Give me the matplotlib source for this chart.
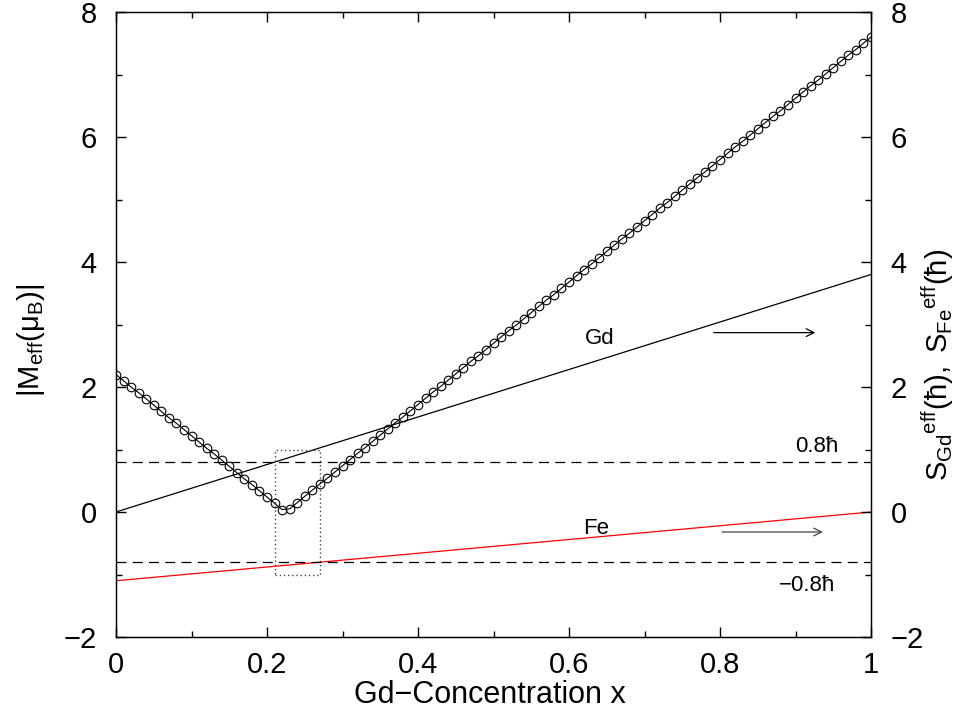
import numpy as np
import matplotlib
matplotlib.use("Agg")
import matplotlib.pyplot as plt
from matplotlib.ticker import MultipleLocator

plt.rcParams['font.family'] = ['Liberation Sans', 'DejaVu Sans']
plt.rcParams['mathtext.fontset'] = 'custom'
plt.rcParams['mathtext.rm'] = 'Liberation Sans'
plt.rcParams['mathtext.it'] = 'Liberation Sans'
plt.rcParams['mathtext.default'] = 'rm'
plt.rcParams['axes.unicode_minus'] = True

# Gd concentration grid
x_conc = np.linspace(0.0, 1.0, 101)

# |M_eff| (mu_B)
m_eff = [2.20, 2.10, 2.00, 1.91, 1.81, 1.71, 1.61, 1.51, 1.42, 1.32,
         1.22, 1.12, 1.02, 0.93, 0.83, 0.73, 0.63, 0.53, 0.44, 0.34,
         0.24, 0.14, 0.04, 0.05, 0.15, 0.25, 0.35, 0.45, 0.54, 0.64,
         0.74, 0.84, 0.94, 1.03, 1.13, 1.23, 1.33, 1.43, 1.52, 1.62,
         1.72, 1.82, 1.92, 2.01, 2.11, 2.21, 2.31, 2.41, 2.50, 2.60,
         2.70, 2.80, 2.90, 2.99, 3.09, 3.19, 3.29, 3.39, 3.48, 3.58,
         3.68, 3.78, 3.88, 3.97, 4.07, 4.17, 4.27, 4.37, 4.46, 4.56,
         4.66, 4.76, 4.86, 4.95, 5.05, 5.15, 5.25, 5.35, 5.44, 5.54,
         5.64, 5.74, 5.84, 5.93, 6.03, 6.13, 6.23, 6.33, 6.42, 6.52,
         6.62, 6.72, 6.82, 6.91, 7.01, 7.11, 7.21, 7.31, 7.40, 7.50,
         7.60]

# Effective spins (hbar), straight lines
s_x = [0.0, 1.0]
s_gd = [0.0, 3.8]
s_fe = [-1.1, 0.0]

# Reference levels
levels = [0.8, -0.8]

# Dotted box
box_x = [0.21, 0.27]
box_y = [-1.0, 1.0]

fig = plt.figure(figsize=(9.63, 7.25), dpi=100)
ax = fig.add_axes([116/963, 1-637/725, (871-116)/963, (637-12)/725])

ax.plot(x_conc, m_eff, color='black', lw=0.8, marker='o', ms=6.2,
        mfc='none', mec='black', mew=0.8, zorder=4)
ax.plot(s_x, s_gd, color='black', lw=0.9)
ax.plot(s_x, s_fe, color='red', lw=0.9)
for lv in levels:
    ax.axhline(lv, color='black', lw=0.9, dashes=(8, 5))

ax.plot([box_x[0], box_x[1], box_x[1], box_x[0], box_x[0]],
        [box_y[0], box_y[0], box_y[1], box_y[1], box_y[0]],
        color='#444444', lw=1.0, ls=(0, (1, 2)))

ax.text(0.64, 2.77, 'Gd', fontsize=16, ha='center', va='center')
ax.text(0.636, -0.26, 'Fe', fontsize=16, ha='center', va='center')
ax.annotate('', xy=(0.93, 2.87), xytext=(0.788, 2.87),
            arrowprops=dict(arrowstyle='->', color='black', lw=0.9,
                            mutation_scale=14))
ax.annotate('', xy=(0.94, -0.32), xytext=(0.799, -0.32),
            arrowprops=dict(arrowstyle='->', color='#444444', lw=0.9,
                            mutation_scale=14))
ax.text(0.928, 1.05, '0.8ħ', fontsize=16, ha='center', va='center')
ax.text(0.915, -1.18, '\u22120.8ħ', fontsize=16, ha='center', va='center')

ax.set_xlim(0, 1)
ax.set_ylim(-2, 8)
ax.xaxis.set_minor_locator(MultipleLocator(0.1))
ax.yaxis.set_major_locator(MultipleLocator(2))
ax.yaxis.set_minor_locator(MultipleLocator(1))
ax.set_xticks([0, 0.2, 0.4, 0.6, 0.8, 1.0])
ax.set_xticklabels(['0', '0.2', '0.4', '0.6', '0.8', '1'])
ax.tick_params(which='both', direction='in', top=True, right=False,
               labelsize=21, width=1.0)
ax.tick_params(axis='y', pad=14)
ax.tick_params(axis='x', pad=10)
ax.tick_params(which='major', length=7)
ax.tick_params(which='minor', length=4)
for sp in ax.spines.values():
    sp.set_linewidth(1.0)

ax.set_xlabel('Gd\u2212Concentration x', fontsize=22)
ax.xaxis.set_label_coords(0.495, -0.1056)
ax.xaxis.label.set_va('baseline')
ax.set_ylabel(r'$|\mathrm{M}_{\mathrm{eff}}(\mathrm{\mu}_{\mathrm{B}})|$', fontsize=21)
ax.yaxis.set_label_coords(-0.1126, 0.474)
ax.yaxis.label.set_va('center')

ax2 = ax.twinx()
ax2.set_ylim(-2, 8)
ax2.yaxis.set_major_locator(MultipleLocator(2))
ax2.yaxis.set_minor_locator(MultipleLocator(1))
ax2.tick_params(which='both', direction='in', labelsize=21, width=1.0, pad=14)
ax2.tick_params(which='major', length=7)
ax2.tick_params(which='minor', length=4)
ax2.set_ylabel(r'$\mathrm{S}_{\mathrm{Gd}}{}^{\mathrm{eff}}(\mathrm{ħ}),\ \mathrm{S}_{\mathrm{Fe}}{}^{\mathrm{eff}}(\mathrm{ħ})$',
               fontsize=21, rotation=90)
ax2.yaxis.set_label_coords(1.088, 0.435)
ax2.yaxis.label.set_va('center')

fig.savefig('out.png', dpi=100)
